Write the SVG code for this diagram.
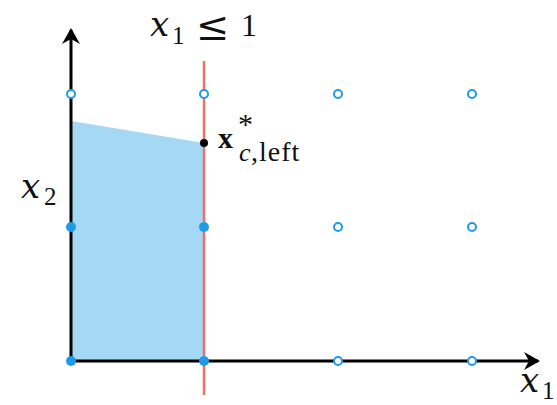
<svg xmlns="http://www.w3.org/2000/svg" width="557" height="405" viewBox="0 0 557 405">
<style>
.ax{stroke:#000;stroke-width:3;fill:none}
.f{fill:#1e9be8}
.o{fill:#fff;stroke:#1e9be8;stroke-width:2}
.v{font-family:"DejaVu Serif",serif;font-style:italic;fill:#111;font-size:34px}
.t{font-family:"Liberation Serif","DejaVu Serif",serif;font-style:italic;fill:#111}
.u{font-family:"Liberation Serif","DejaVu Serif",serif;fill:#111}
.s{font-family:"Liberation Serif","DejaVu Serif",serif;fill:#111;font-size:25px}
</style>
<g id="region"><polygon points="71,361 71,121 204,143 204,361" fill="#a5d8f5"/></g>
<g id="connectors">
<line id="constraint" x1="204" y1="61" x2="204" y2="395" stroke="#ef6f6a" stroke-width="2.5"/>
<line id="xaxis" class="ax" x1="70" y1="361" x2="538" y2="361"/>
<line id="yaxis" class="ax" x1="71" y1="362" x2="71" y2="30"/>
<path d="M524,352 L540,361 L524,370 L529,361 Z" fill="#000"/>
<path d="M62,44 L71,28 L80,44 L71,39 Z" fill="#000"/>
</g>
<g id="points">
<circle class="f" cx="71" cy="361" r="5"/>
<circle class="f" cx="204" cy="361" r="5"/>
<circle class="f" cx="71" cy="227" r="5"/>
<circle class="f" cx="204" cy="227" r="5"/>
<circle class="o" cx="338" cy="361" r="4"/>
<circle class="o" cx="472" cy="361" r="4"/>
<circle class="o" cx="338" cy="227" r="4"/>
<circle class="o" cx="472" cy="227" r="4"/>
<circle class="o" cx="71" cy="94" r="4"/>
<circle class="o" cx="204" cy="94" r="4"/>
<circle class="o" cx="338" cy="94" r="4"/>
<circle class="o" cx="472" cy="94" r="4"/>
<circle cx="204" cy="143" r="4" fill="#000"/>
</g>
<g id="labels">
<text class="v" x="150" y="36">x</text>
<text class="s" x="172" y="44">1</text>
<text x="196" y="40" font-size="40" style="font-family:'DejaVu Serif',serif;fill:#111">≤</text>
<text class="u" x="241" y="36" font-size="32">1</text>
<text class="v" x="21" y="198">x</text>
<text class="s" x="44" y="205">2</text>
<text class="v" x="520" y="392">x</text>
<text class="s" x="542" y="399">1</text>
<text class="u" x="218" y="148" font-size="30" font-weight="bold">x</text>
<text class="u" x="238" y="134" font-size="30">*</text>
<text class="t" x="239" y="161" font-size="26">c</text>
<text class="u" x="251" y="161" font-size="28" letter-spacing="1">,left</text>
</g>
</svg>
